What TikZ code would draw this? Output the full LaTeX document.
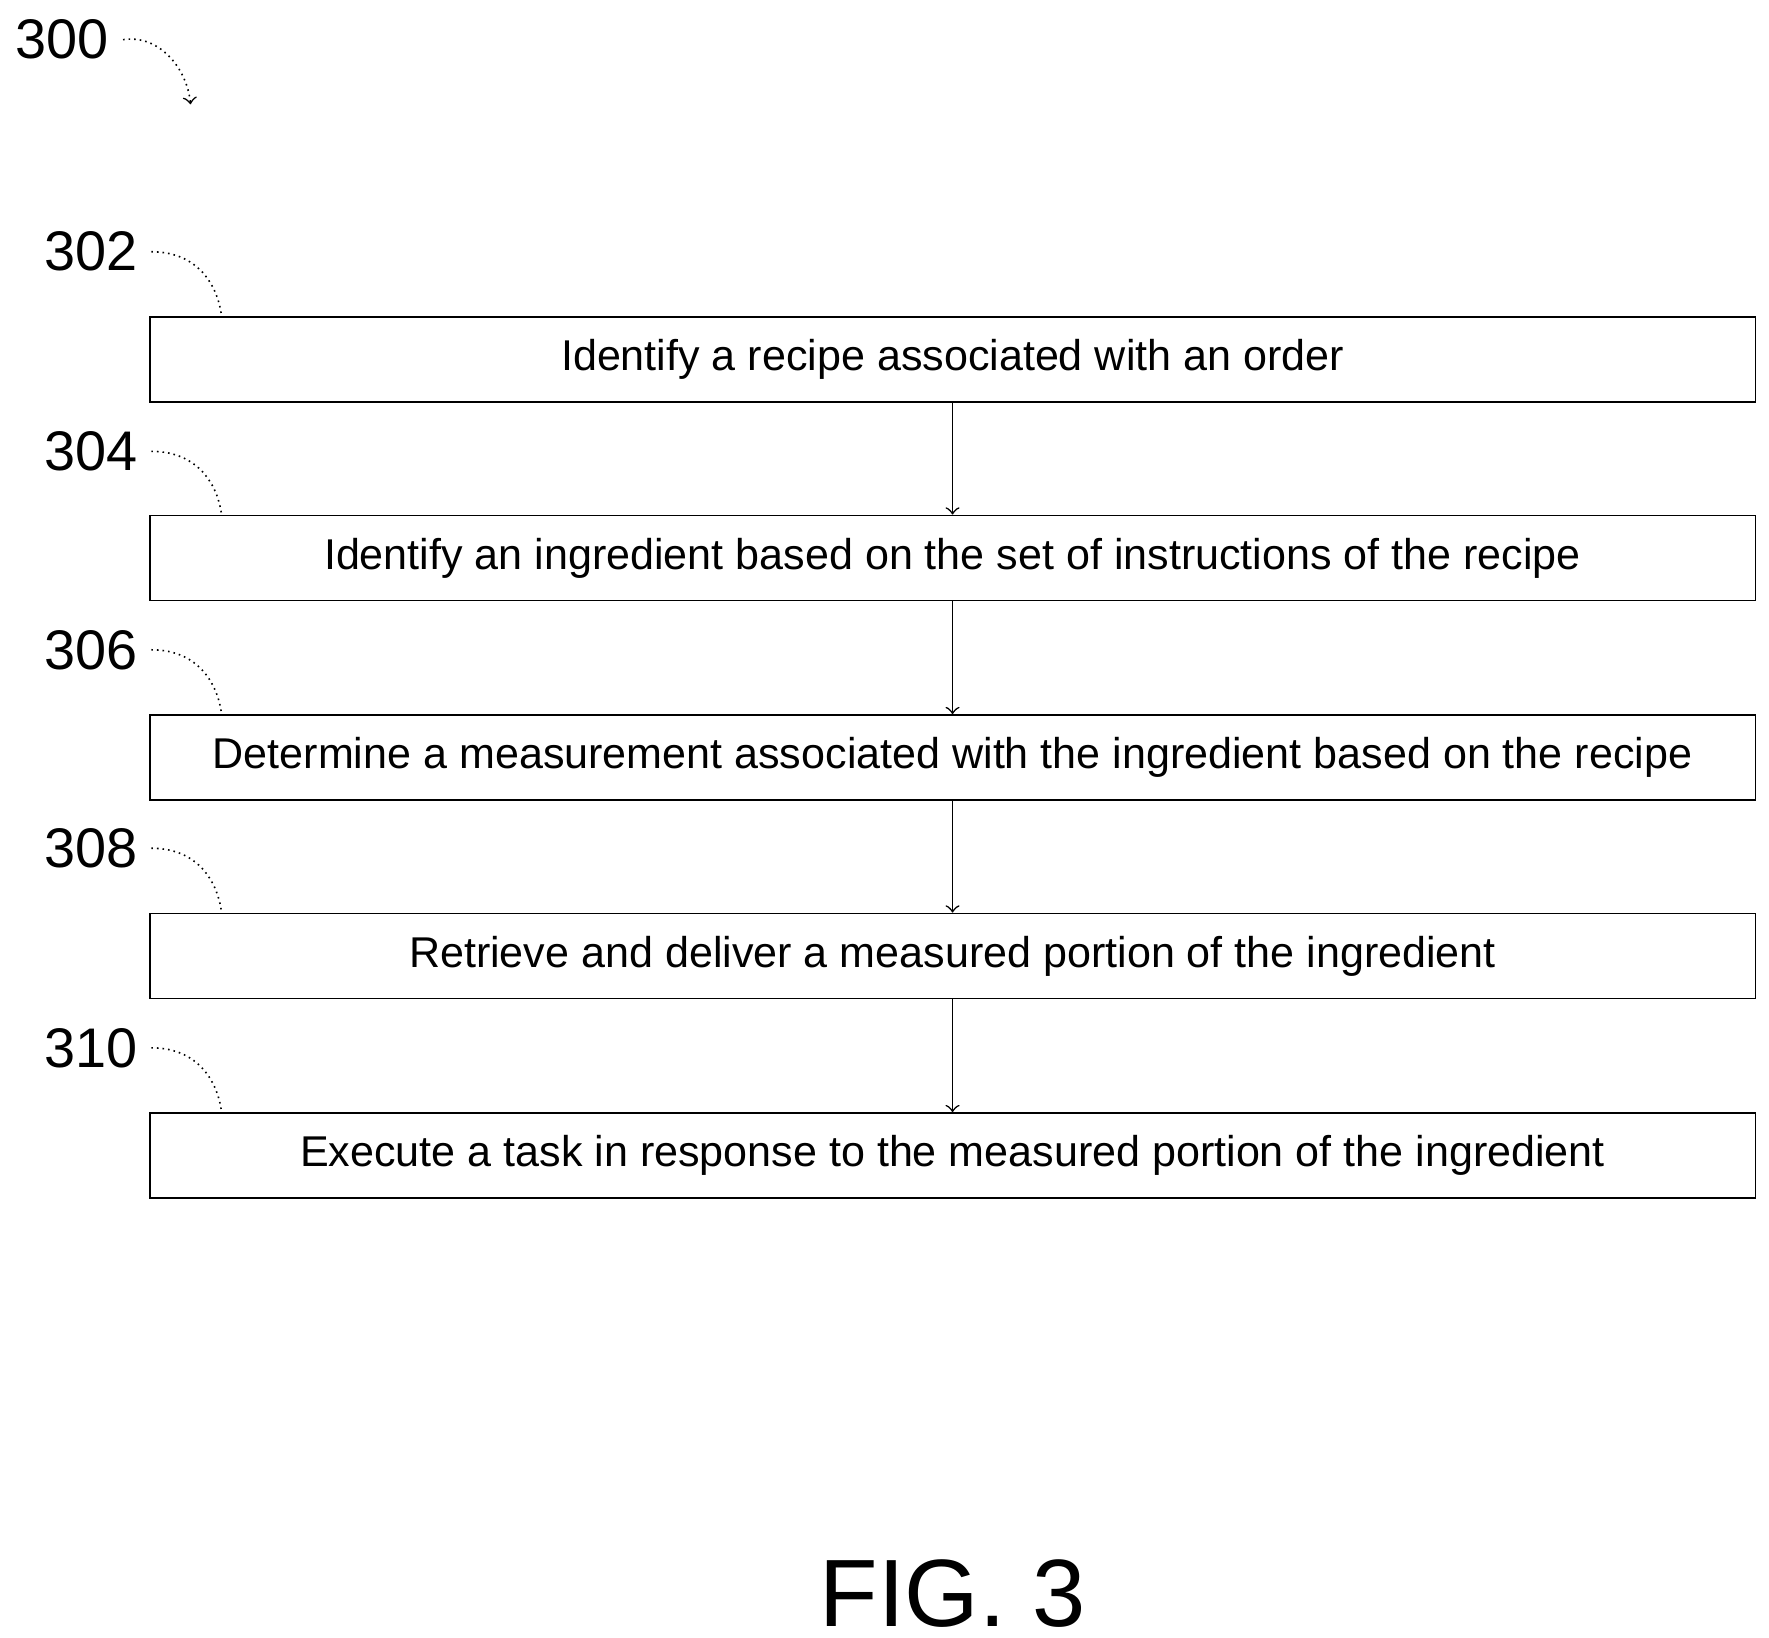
\documentclass[tikz,border=0pt]{standalone}
\usepackage{fontspec}
\setmainfont{Liberation Sans}
\usetikzlibrary{positioning}
\tikzset{
  stepbox/.style={draw,thin,minimum width=14.15cm,minimum height=0.75cm,font=\fontsize{10.8}{13}\selectfont,inner sep=0pt},
  ref/.style={font=\fontsize{14}{16}\selectfont},
  lead/.style={densely dotted,thin},
}
\begin{document}
\begin{tikzpicture}[x=0.01cm,y=-0.01cm]
  \useasboundingbox (0,0) rectangle (1560,1444);
  \node[ref] (n300) at (55,35) {300};
  \draw[lead,->] (n300.east) .. controls (140,30) and (165,60) .. (168,92);

  \node[stepbox] (s302) at (840,317) {Identify a recipe associated with an order};
  \node[stepbox] (s304) at (840,492) {Identify an ingredient based on the set of instructions of the recipe};
  \node[stepbox] (s306) at (840,668) {Determine a measurement associated with the ingredient based on the recipe};
  \node[stepbox] (s308) at (840,843) {Retrieve and deliver a measured portion of the ingredient};
  \node[stepbox] (s310) at (840,1019) {Execute a task in response to the measured portion of the ingredient};

  \foreach \a/\b in {s302/s304,s304/s306,s306/s308,s308/s310}
    \draw[->,thin] (\a) -- (\b);

  \foreach \n/\y in {302/222,304/398,306/573,308/748,310/924}{
    \node[ref] (r\n) at (80,\y) {\n};
    \draw[lead] (r\n.east) .. controls (175,\y) and (192,{\y+30}) .. ([xshift=0.64cm]s\n.north west);
  }

  \node[font=\fontsize{24}{28}\selectfont] (fig) at (840,1405) {FIG. 3};
\end{tikzpicture}
\end{document}
